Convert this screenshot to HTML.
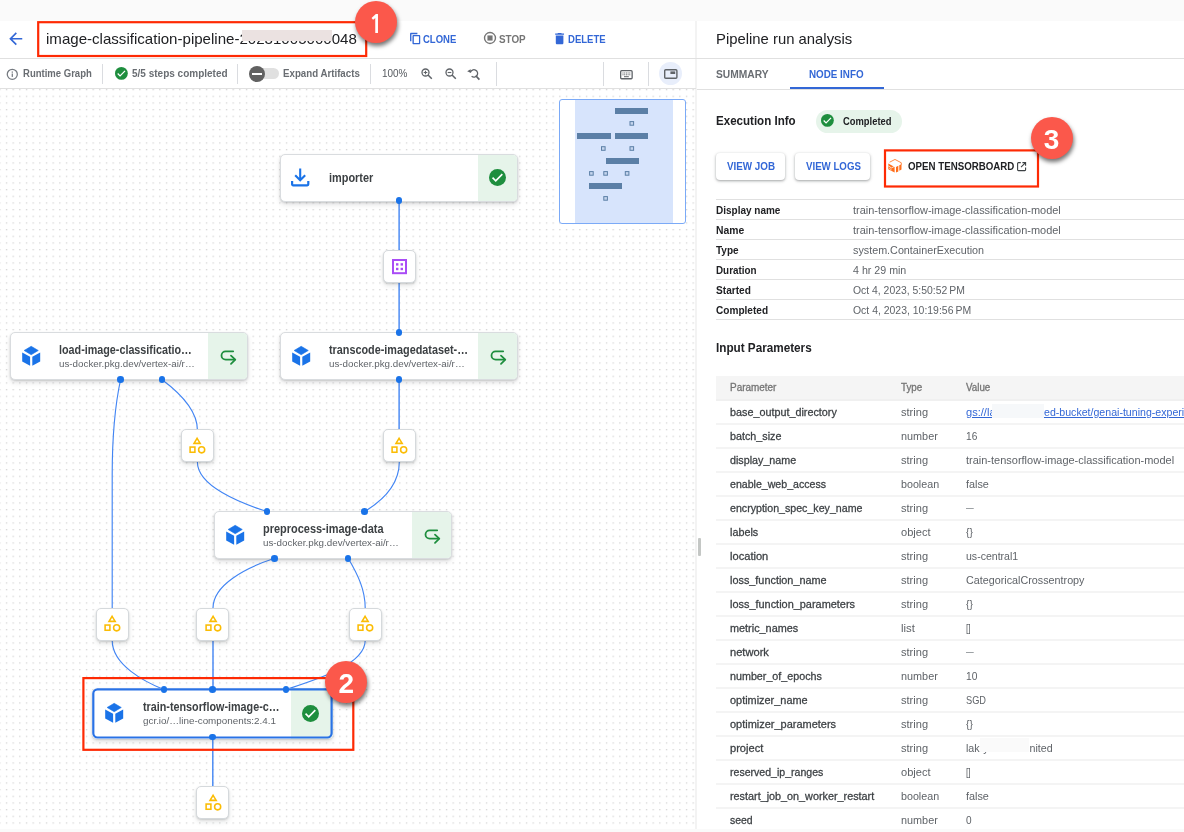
<!DOCTYPE html>
<html lang="en"><head><meta charset="utf-8"><title>Pipeline run analysis</title><style>
html,body{margin:0;padding:0}
body{width:1184px;height:832px;overflow:hidden;position:relative;background:#fff;font-family:"Liberation Sans",sans-serif;-webkit-font-smoothing:antialiased}
.t{position:absolute;white-space:nowrap;line-height:1;display:block}
.card{position:absolute;box-sizing:border-box;background:#fff;border:1px solid #d9dcdf;border-radius:5px;box-shadow:0 1px 2px rgba(60,64,67,.2),0 3px 5px 0 rgba(60,64,67,.13);overflow:hidden}
.card .st{position:absolute;right:0;top:0;bottom:0;width:39px;background:#e6f4ea}
.art{position:absolute;box-sizing:border-box;width:33px;height:33px;background:#fff;border:1px solid #d5d9dc;border-radius:5px;box-shadow:0 1px 2px rgba(60,64,67,.2),0 3px 5px 0 rgba(60,64,67,.12)}
.btn{position:absolute;box-sizing:border-box;background:#fff;border-radius:4px;box-shadow:0 1px 2px rgba(60,64,67,.3),0 1px 3px 1px rgba(60,64,67,.15)}
.hl{position:absolute;height:1px;background:#e0e0e0}
.vl{position:absolute;width:1px;background:#dadce0}
.redbox{position:absolute;box-sizing:border-box;border:2px solid #f4330f}
.badge{position:absolute;width:42px;height:42px;border-radius:50%;background:#fb584b;box-shadow:1px 3px 4px rgba(0,0,0,.55)}
.badge b{position:absolute;left:0;top:1.5px;width:42px;height:42px;line-height:42px;text-align:center;color:#fff;font-weight:700;font-size:28px}
.badge b.one{font-family:"NanumGothic","Liberation Sans",sans-serif;font-size:25px;top:3px;left:0}
svg{position:absolute;overflow:visible}
#app{position:absolute;left:0;top:0;width:1184px;height:832px;overflow:hidden;will-change:transform}
</style></head><body><div id="app">
<div style="position:absolute;left:0.00px;top:0.00px;width:1184.00px;height:21.00px;background:#fafafa"></div>
<svg style="left:0;top:89px" width="696" height="740" viewBox="0 89 696 740"><defs><pattern id="dots" x="-0.800" y="89.000" width="6.6667" height="6.6667" patternUnits="userSpaceOnUse"><rect x="0" y="0" width="1.300" height="1.300" fill="#d4d4d4"></rect></pattern></defs><rect x="0" y="89" width="696" height="740" fill="url(#dots)"></rect></svg>
<div style="position:absolute;left:0.00px;top:829.00px;width:1184.00px;height:3.00px;background:#fafafa"></div>
<div style="position:absolute;left:695.00px;top:21.00px;width:2.00px;height:808.00px;background:#f3f3f3"></div>
<div class="hl" style="left:0;top:58px;width:1184px"></div>
<div class="hl" style="left:0;top:88px;width:696px"></div>
<div class="hl" style="left:697px;top:89px;width:487px"></div>
<svg style="left:6.1px;top:28.7px" width="19.5" height="19.5" viewBox="0 0 24 24"><path d="M20 11H7.830l5.590-5.590L12 4l-8 8 8 8 1.410-1.410L7.830 13H20z" fill="#3367d6"></path></svg>
<span class="t" style="left: 46.3px; top: 31px; font-size: 15px; color: rgb(32, 33, 36); transform-origin: 0px 50%; transform: scaleX(1.0046);">image-classification-pipeline-20231005000048</span>
<div style="position:absolute;left:241.90px;top:30.00px;width:90.00px;height:11.40px;background:#ebe2e1"></div>
<svg style="left:409.3px;top:31.6px" width="12.6" height="13.2" viewBox="0 0 24 24"><path d="M16 1H4c-1.1 0-2 .9-2 2v14h2.6V3.6H16V1zm3.4 4H8.6c-1.1 0-2 .9-2 2v14c0 1.1.9 2 2 2h10.8c1.1 0 2-.9 2-2V7c0-1.1-.9-2-2-2zm-.4 15.400H9.200V7.600H19v12.800z" fill="#3367d6"></path></svg>
<span class="t" style="left: 423px; top: 35px; font-size: 10px; color: rgb(51, 103, 214); font-weight: 700; transform-origin: 0px 50%; transform: scaleX(0.9514);">CLONE</span>
<svg style="left:483.4px;top:31.4px" width="14" height="14" viewBox="0 0 24 24"><circle cx="12" cy="12" r="9.400" fill="none" stroke="#757575" stroke-width="2.400"></circle><rect x="7.600" y="7.600" width="8.800" height="8.800" fill="#757575"></rect></svg>
<span class="t" style="left: 498.6px; top: 35px; font-size: 10px; color: rgb(117, 117, 117); font-weight: 700; transform-origin: 0px 50%; transform: scaleX(0.9872);">STOP</span>
<svg style="left:552.4px;top:30.6px" width="15.2" height="15.2" viewBox="0 0 24 24"><path d="M6 19c0 1.100.9 2 2 2h8c1.100 0 2-.9 2-2V7H6v12zM19 4h-3.500l-1-1h-5l-1 1H5v2h14V4z" fill="#3367d6"></path></svg>
<span class="t" style="left: 567.7px; top: 35px; font-size: 10px; color: rgb(51, 103, 214); font-weight: 700; transform-origin: 0px 50%; transform: scaleX(0.953);">DELETE</span>
<span class="t" style="left: 716.1px; top: 31px; font-size: 15px; color: rgb(32, 33, 36); transform-origin: 0px 50%; transform: scaleX(0.99);">Pipeline run analysis</span>
<svg style="left:6.2px;top:67.5px" width="12.6" height="12.6" viewBox="0 0 24 24"><circle cx="12" cy="12" r="9.600" fill="none" stroke="#757a80" stroke-width="2.400"></circle><rect x="10.800" y="10.500" width="2.400" height="6.500" fill="#757a80"></rect><rect x="10.800" y="6.600" width="2.400" height="2.400" fill="#757a80"></rect></svg>
<span class="t" style="left: 23.2px; top: 69px; font-size: 10px; color: rgb(105, 109, 114); font-weight: 700; transform-origin: 0px 50%; transform: scaleX(0.9525);">Runtime Graph</span>
<div class="vl" style="left:102px;top:64px;height:20px"></div>
<div class="vl" style="left:237px;top:64px;height:20px"></div>
<div class="vl" style="left:370px;top:64px;height:20px"></div>
<div class="vl" style="left:496px;top:62px;height:24px"></div>
<div class="vl" style="left:603px;top:62px;height:24px"></div>
<div class="vl" style="left:648px;top:62px;height:24px"></div>
<svg style="left:114.80px;top:67.40px" width="12.80" height="12.80" viewBox="0 0 24 24"><circle cx="12" cy="12" r="12" fill="#1e8e3e"></circle><path d="M5 12.200L9.500 16.700 18.800 7.200" fill="none" stroke="#fff" stroke-width="2.300"></path></svg>
<span class="t" style="left: 131.8px; top: 69px; font-size: 10px; color: rgb(105, 109, 114); font-weight: 700; transform-origin: 0px 50%; transform: scaleX(1.0001);">5/5 steps completed</span>
<div style="position:absolute;left:252.00px;top:68.40px;width:27.00px;height:11.00px;background:#e0e0e0;border-radius:6px"></div>
<div style="position:absolute;left:248.80px;top:65.60px;width:16.60px;height:16.60px;background:#616161;border-radius:50%"></div>
<div style="position:absolute;left:252.40px;top:73.20px;width:9.40px;height:1.50px;background:#fff"></div>
<span class="t" style="left: 282.8px; top: 69px; font-size: 10px; color: rgb(105, 109, 114); font-weight: 700; transform-origin: 0px 50%; transform: scaleX(0.971);">Expand Artifacts</span>
<span class="t" style="left: 381.5px; top: 69px; font-size: 10px; color: rgb(85, 89, 94); transform-origin: 0px 50%; transform: scaleX(0.993);">100%</span>
<svg style="left:421.4px;top:68.2px" width="12" height="12" viewBox="0 0 12 12"><circle cx="4.500" cy="4.500" r="3.500" fill="none" stroke="#5f6368" stroke-width="1.300"></circle><path d="M7 7L10.800 10.800" stroke="#5f6368" stroke-width="1.500" fill="none"></path><path d="M2.700 4.500h3.600M4.500 2.700v3.600" stroke="#5f6368" stroke-width="1.100" fill="none"></path></svg>
<svg style="left:444.8px;top:68.2px" width="12" height="12" viewBox="0 0 12 12"><circle cx="4.500" cy="4.500" r="3.500" fill="none" stroke="#5f6368" stroke-width="1.300"></circle><path d="M7 7L10.800 10.800" stroke="#5f6368" stroke-width="1.500" fill="none"></path><path d="M2.700 4.500h3.600" stroke="#5f6368" stroke-width="1.100" fill="none"></path></svg>
<svg style="left:467.4px;top:67.8px" width="13" height="12.400" viewBox="0 0 13 12.400"><path d="M3.400 4.300A3.700 3.700 0 1 1 4.600 8.300" fill="none" stroke="#5f6368" stroke-width="1.300"></path><path d="M0.200 3.200L3.600 1.200 3.900 5.100z" fill="#5f6368"></path><path d="M8.700 7.600L12.400 11.600" stroke="#5f6368" stroke-width="1.600" fill="none"></path></svg>
<svg style="left:619.6px;top:69.8px" width="12.800" height="9.400" viewBox="0 0 12.800 9.400"><rect x="0.650" y="0.650" width="11.500" height="8.100" rx="1" fill="none" stroke="#5f6368" stroke-width="1.300"></rect><path d="M2.500 3h7.800M2.500 4.800h7.800" stroke="#5f6368" stroke-width="1" stroke-dasharray="1 0.700" fill="none"></path><path d="M4 6.700h4.800" stroke="#5f6368" stroke-width="1" fill="none"></path></svg>
<div style="position:absolute;left:658.90px;top:62.20px;width:23.20px;height:23.20px;background:#e8eefb;border-radius:50%"></div>
<svg style="left:663.8px;top:68.8px" width="13.600" height="10" viewBox="0 0 13.600 10"><rect x="0.700" y="0.700" width="12.200" height="8.600" rx="1" fill="none" stroke="#5f6368" stroke-width="1.400"></rect><rect x="6.400" y="2.400" width="4.800" height="2.600" fill="#5f6368"></rect></svg>
<span class="t" style="left: 716.3px; top: 69px; font-size: 11px; color: rgb(105, 109, 114); font-weight: 700; transform-origin: 0px 50%; transform: scaleX(0.932);">SUMMARY</span>
<span class="t" style="left: 809.4px; top: 69px; font-size: 11px; color: rgb(51, 103, 214); font-weight: 700; transform-origin: 0px 50%; transform: scaleX(0.8933);">NODE INFO</span>
<div style="position:absolute;left:790.00px;top:87.40px;width:94.30px;height:2.00px;background:#3367d6"></div>
<svg style="left:0;top:0" width="696" height="832" viewBox="0 0 696 832">
<path d="M399.1 200.4V251" fill="none" stroke="#4285f4" stroke-width="1.4"></path>
<path d="M399.1 283V332.5" fill="none" stroke="#4285f4" stroke-width="1.4"></path>
<path d="M120.6 379.5C114 410 112.200 440 112.200 475V608" fill="none" stroke="#4285f4" stroke-width="1.15"></path>
<path d="M161.8 379.5C180 393 197.400 410 197.400 430" fill="none" stroke="#4285f4" stroke-width="1.15"></path>
<path d="M197.400 462C197.400 486 240 503 267 511.5" fill="none" stroke="#4285f4" stroke-width="1.15"></path>
<path d="M399.1 379.5V430" fill="none" stroke="#4285f4" stroke-width="1.4"></path>
<path d="M399.3 462C399.300 485 382 501 364.700 511.500" fill="none" stroke="#4285f4" stroke-width="1.15"></path>
<path d="M274.7 558.3C245 568 213 585 213 608" fill="none" stroke="#4285f4" stroke-width="1.15"></path>
<path d="M348.2 558.3C358 575 365.200 590 365.200 608" fill="none" stroke="#4285f4" stroke-width="1.15"></path>
<path d="M112.2 640.5C112.200 665 145 682 163.800 689.500" fill="none" stroke="#4285f4" stroke-width="1.15"></path>
<path d="M213 640.5V689.500" fill="none" stroke="#4285f4" stroke-width="1.4"></path>
<path d="M365.2 640.5C365.200 665 315 680 286.200 689.500" fill="none" stroke="#4285f4" stroke-width="1.15"></path>
<path d="M212.8 737V787" fill="none" stroke="#4285f4" stroke-width="1.4"></path>
</svg>
<div class="card" style="left:280.00px;top:154.00px;width:238.00px;height:48.00px"><div class="st"></div></div>
<svg style="left:291.40px;top:167.60px" width="18.400" height="18.400" viewBox="0 0 18.400 18.400"><path d="M9.200 0.600V11.800M4.200 7.200L9.200 12.200 14.200 7.200" fill="none" stroke="#1a73e8" stroke-width="2.100"></path><path d="M1.100 13V16.300A1 1 0 0 0 2.100 17.300H16.300A1 1 0 0 0 17.300 16.300V13" fill="none" stroke="#1a73e8" stroke-width="2.200"></path></svg>
<span class="t" style="left: 329.2px; top: 172px; font-size: 12px; color: rgb(60, 64, 67); font-weight: 700; transform-origin: 0px 50%; transform: scaleX(0.9099);">importer</span>
<svg style="left:489.20px;top:168.50px" width="17.00" height="17.00" viewBox="0 0 24 24"><circle cx="12" cy="12" r="12" fill="#1e8e3e"></circle><path d="M5 12.200L9.500 16.700 18.800 7.200" fill="none" stroke="#fff" stroke-width="2.300"></path></svg>
<div class="card" style="left:10.00px;top:332.00px;width:238.00px;height:48.00px"><div class="st"></div></div>
<svg style="left:21.75px;top:345.70px" width="18.4" height="20.2" viewBox="0 0 18.400 20.200"><path d="M9.200 0.300L16.300 4.500 9.200 8.700 2.100 4.500z" fill="#1a73e8" stroke="#1a73e8" stroke-width="0.600" stroke-linejoin="round"></path><path d="M0.200 6.600L8.100 10.700V19.700L0.200 15.500z" fill="#1a73e8"></path><path d="M18.200 6.600L10.300 10.700V19.700L18.200 15.500z" fill="#1a73e8"></path></svg>
<span class="t" style="left: 59.2px; top: 344px; font-size: 12px; color: rgb(60, 64, 67); font-weight: 700; transform-origin: 0px 50%; transform: scaleX(0.897);">load-image-classificatio…</span>
<span class="t" style="left: 59.2px; top: 359px; font-size: 9.5px; color: rgb(95, 99, 104); transform-origin: 0px 50%; transform: scaleX(1.0321);">us-docker.pkg.dev/vertex-ai/r…</span>
<svg style="left:221.10px;top:350.40px" width="15.200" height="14.800" viewBox="0 0 15.200 14.800"><path d="M12.200 1.300H4.700A4.200 4.200 0 0 0 4.700 9.700H13.600" fill="none" stroke="#1e8e3e" stroke-width="1.800" stroke-linecap="round"></path><path d="M10 5.600L14.300 9.700 10 13.800" fill="none" stroke="#1e8e3e" stroke-width="1.800" stroke-linecap="round" stroke-linejoin="round"></path></svg>
<div class="card" style="left:280.00px;top:332.00px;width:238.00px;height:48.00px"><div class="st"></div></div>
<svg style="left:291.75px;top:345.70px" width="18.4" height="20.2" viewBox="0 0 18.400 20.200"><path d="M9.200 0.300L16.300 4.500 9.200 8.700 2.100 4.500z" fill="#1a73e8" stroke="#1a73e8" stroke-width="0.600" stroke-linejoin="round"></path><path d="M0.200 6.600L8.100 10.700V19.700L0.200 15.500z" fill="#1a73e8"></path><path d="M18.200 6.600L10.300 10.700V19.700L18.200 15.500z" fill="#1a73e8"></path></svg>
<span class="t" style="left: 329.2px; top: 344px; font-size: 12px; color: rgb(60, 64, 67); font-weight: 700; transform-origin: 0px 50%; transform: scaleX(0.9023);">transcode-imagedataset-…</span>
<span class="t" style="left: 329.2px; top: 359px; font-size: 9.5px; color: rgb(95, 99, 104); transform-origin: 0px 50%; transform: scaleX(1.0321);">us-docker.pkg.dev/vertex-ai/r…</span>
<svg style="left:491.10px;top:350.40px" width="15.200" height="14.800" viewBox="0 0 15.200 14.800"><path d="M12.200 1.300H4.700A4.200 4.200 0 0 0 4.700 9.700H13.600" fill="none" stroke="#1e8e3e" stroke-width="1.800" stroke-linecap="round"></path><path d="M10 5.600L14.300 9.700 10 13.800" fill="none" stroke="#1e8e3e" stroke-width="1.800" stroke-linecap="round" stroke-linejoin="round"></path></svg>
<div class="card" style="left:214.00px;top:511.00px;width:238.00px;height:48.00px"><div class="st"></div></div>
<svg style="left:225.75px;top:524.70px" width="18.4" height="20.2" viewBox="0 0 18.400 20.200"><path d="M9.200 0.300L16.300 4.500 9.200 8.700 2.100 4.500z" fill="#1a73e8" stroke="#1a73e8" stroke-width="0.600" stroke-linejoin="round"></path><path d="M0.200 6.600L8.100 10.700V19.700L0.200 15.500z" fill="#1a73e8"></path><path d="M18.200 6.600L10.300 10.700V19.700L18.200 15.500z" fill="#1a73e8"></path></svg>
<span class="t" style="left: 263.2px; top: 523px; font-size: 12px; color: rgb(60, 64, 67); font-weight: 700; transform-origin: 0px 50%; transform: scaleX(0.9133);">preprocess-image-data</span>
<span class="t" style="left: 263.2px; top: 538px; font-size: 9.5px; color: rgb(95, 99, 104); transform-origin: 0px 50%; transform: scaleX(1.0321);">us-docker.pkg.dev/vertex-ai/r…</span>
<svg style="left:425.10px;top:529.40px" width="15.200" height="14.800" viewBox="0 0 15.200 14.800"><path d="M12.200 1.300H4.700A4.200 4.200 0 0 0 4.700 9.700H13.600" fill="none" stroke="#1e8e3e" stroke-width="1.800" stroke-linecap="round"></path><path d="M10 5.600L14.300 9.700 10 13.800" fill="none" stroke="#1e8e3e" stroke-width="1.800" stroke-linecap="round" stroke-linejoin="round"></path></svg>
<div class="card" style="left:92.10px;top:688.10px;width:240.70px;height:50.60px;border:0;border-radius:5px"><div class="st" style="width:42px"></div></div>
<svg style="left:0;top:0" width="696" height="832" viewBox="0 0 696 832"><rect x="93.30" y="689.30" width="238.30" height="48.20" rx="4.200" fill="none" stroke="#2a72e5" stroke-width="2.200"></rect></svg>
<svg style="left:104.85px;top:703.30px" width="18.4" height="20.2" viewBox="0 0 18.400 20.200"><path d="M9.200 0.300L16.300 4.500 9.200 8.700 2.100 4.500z" fill="#1a73e8" stroke="#1a73e8" stroke-width="0.600" stroke-linejoin="round"></path><path d="M0.200 6.600L8.100 10.700V19.700L0.200 15.500z" fill="#1a73e8"></path><path d="M18.200 6.600L10.300 10.700V19.700L18.200 15.500z" fill="#1a73e8"></path></svg>
<span class="t" style="left: 143px; top: 701px; font-size: 12px; color: rgb(60, 64, 67); font-weight: 700; transform-origin: 0px 50%; transform: scaleX(0.8979);">train-tensorflow-image-c…</span>
<span class="t" style="left: 143px; top: 716px; font-size: 9.5px; color: rgb(95, 99, 104); transform-origin: 0px 50%; transform: scaleX(1.0364);">gcr.io/…line-components:2.4.1</span>
<svg style="left:302.30px;top:704.50px" width="17.00" height="17.00" viewBox="0 0 24 24"><circle cx="12" cy="12" r="12" fill="#1e8e3e"></circle><path d="M5 12.200L9.500 16.700 18.800 7.200" fill="none" stroke="#fff" stroke-width="2.300"></path></svg>
<div class="art" style="left:383px;top:250px"></div>
<svg style="left:391.90px;top:258.70px" width="15" height="15.400" viewBox="0 0 15 15.400"><rect x="1" y="1" width="13" height="13.200" fill="none" stroke="#a94cf6" stroke-width="2"></rect><rect x="4" y="4.200" width="2.400" height="2.400" fill="#a94cf6"></rect><rect x="8.600" y="4.200" width="2.400" height="2.400" fill="#a94cf6"></rect><rect x="4" y="8.800" width="2.400" height="2.400" fill="#a94cf6"></rect><rect x="8.600" y="8.800" width="2.400" height="2.400" fill="#a94cf6"></rect></svg>
<div class="art" style="left:181px;top:429px"></div>
<svg style="left:187.40px;top:435.70px" width="20" height="20" viewBox="-10 -10 20 20"><path d="M0.100 -7.700L3.200 -2.650H-3z" fill="none" stroke="#fbbc04" stroke-width="1.550" stroke-linejoin="miter"></path><rect x="-6.900" y="1.050" width="4.800" height="5.200" fill="none" stroke="#fbbc04" stroke-width="1.550"></rect><circle cx="4.650" cy="3.800" r="3.050" fill="none" stroke="#fbbc04" stroke-width="1.550"></circle></svg>
<div class="art" style="left:383px;top:429px"></div>
<svg style="left:389.30px;top:435.70px" width="20" height="20" viewBox="-10 -10 20 20"><path d="M0.100 -7.700L3.200 -2.650H-3z" fill="none" stroke="#fbbc04" stroke-width="1.550" stroke-linejoin="miter"></path><rect x="-6.900" y="1.050" width="4.800" height="5.200" fill="none" stroke="#fbbc04" stroke-width="1.550"></rect><circle cx="4.650" cy="3.800" r="3.050" fill="none" stroke="#fbbc04" stroke-width="1.550"></circle></svg>
<div class="art" style="left:96px;top:608px"></div>
<svg style="left:102.20px;top:614.20px" width="20" height="20" viewBox="-10 -10 20 20"><path d="M0.100 -7.700L3.200 -2.650H-3z" fill="none" stroke="#fbbc04" stroke-width="1.550" stroke-linejoin="miter"></path><rect x="-6.900" y="1.050" width="4.800" height="5.200" fill="none" stroke="#fbbc04" stroke-width="1.550"></rect><circle cx="4.650" cy="3.800" r="3.050" fill="none" stroke="#fbbc04" stroke-width="1.550"></circle></svg>
<div class="art" style="left:196px;top:608px"></div>
<svg style="left:203.00px;top:614.20px" width="20" height="20" viewBox="-10 -10 20 20"><path d="M0.100 -7.700L3.200 -2.650H-3z" fill="none" stroke="#fbbc04" stroke-width="1.550" stroke-linejoin="miter"></path><rect x="-6.900" y="1.050" width="4.800" height="5.200" fill="none" stroke="#fbbc04" stroke-width="1.550"></rect><circle cx="4.650" cy="3.800" r="3.050" fill="none" stroke="#fbbc04" stroke-width="1.550"></circle></svg>
<div class="art" style="left:349px;top:608px"></div>
<svg style="left:355.20px;top:614.20px" width="20" height="20" viewBox="-10 -10 20 20"><path d="M0.100 -7.700L3.200 -2.650H-3z" fill="none" stroke="#fbbc04" stroke-width="1.550" stroke-linejoin="miter"></path><rect x="-6.900" y="1.050" width="4.800" height="5.200" fill="none" stroke="#fbbc04" stroke-width="1.550"></rect><circle cx="4.650" cy="3.800" r="3.050" fill="none" stroke="#fbbc04" stroke-width="1.550"></circle></svg>
<div class="art" style="left:196px;top:786px"></div>
<svg style="left:202.90px;top:792.90px" width="20" height="20" viewBox="-10 -10 20 20"><path d="M0.100 -7.700L3.200 -2.650H-3z" fill="none" stroke="#fbbc04" stroke-width="1.550" stroke-linejoin="miter"></path><rect x="-6.900" y="1.050" width="4.800" height="5.200" fill="none" stroke="#fbbc04" stroke-width="1.550"></rect><circle cx="4.650" cy="3.800" r="3.050" fill="none" stroke="#fbbc04" stroke-width="1.550"></circle></svg>
<div style="position:absolute;left:395.80px;top:197.10px;width:6.60px;height:6.60px;background:#1a73e8;border-radius:50%"></div>
<div style="position:absolute;left:395.80px;top:329.30px;width:6.60px;height:6.60px;background:#1a73e8;border-radius:50%"></div>
<div style="position:absolute;left:395.80px;top:376.30px;width:6.60px;height:6.60px;background:#1a73e8;border-radius:50%"></div>
<div style="position:absolute;left:117.30px;top:376.30px;width:6.60px;height:6.60px;background:#1a73e8;border-radius:50%"></div>
<div style="position:absolute;left:158.50px;top:376.30px;width:6.60px;height:6.60px;background:#1a73e8;border-radius:50%"></div>
<div style="position:absolute;left:263.70px;top:508.10px;width:6.60px;height:6.60px;background:#1a73e8;border-radius:50%"></div>
<div style="position:absolute;left:361.40px;top:508.10px;width:6.60px;height:6.60px;background:#1a73e8;border-radius:50%"></div>
<div style="position:absolute;left:271.40px;top:555.10px;width:6.60px;height:6.60px;background:#1a73e8;border-radius:50%"></div>
<div style="position:absolute;left:344.90px;top:555.10px;width:6.60px;height:6.60px;background:#1a73e8;border-radius:50%"></div>
<div style="position:absolute;left:160.50px;top:686.10px;width:6.60px;height:6.60px;background:#1a73e8;border-radius:50%"></div>
<div style="position:absolute;left:209.40px;top:686.10px;width:6.60px;height:6.60px;background:#1a73e8;border-radius:50%"></div>
<div style="position:absolute;left:282.90px;top:686.10px;width:6.60px;height:6.60px;background:#1a73e8;border-radius:50%"></div>
<div style="position:absolute;left:209.40px;top:733.90px;width:6.60px;height:6.60px;background:#1a73e8;border-radius:50%"></div>
<div style="position:absolute;left:559.30px;top:99.10px;width:126.60px;height:124.80px;box-sizing:border-box;background:#fff;border:1px solid #7baaf7;border-radius:3px;overflow:hidden"><div style="position:absolute;left:14.4px;top:0;width:98.400px;height:124px;background:#d7e4fc"></div></div>
<div style="position:absolute;left:615.20px;top:107.90px;width:33.30px;height:6.00px;background:#5b7fa6"></div>
<div style="position:absolute;left:577.30px;top:132.90px;width:33.40px;height:6.20px;background:#5b7fa6"></div>
<div style="position:absolute;left:615.20px;top:132.90px;width:33.30px;height:6.20px;background:#5b7fa6"></div>
<div style="position:absolute;left:606.00px;top:157.90px;width:33.20px;height:6.20px;background:#5b7fa6"></div>
<div style="position:absolute;left:589.00px;top:183.00px;width:33.20px;height:6.20px;background:#5b7fa6"></div>
<svg style="left:0;top:0" width="696" height="240" viewBox="0 0 696 240">
<rect x="630.0" y="121.6" width="3.600" height="3.600" fill="#c5d5ee" stroke="#5b7fa6" stroke-width="1"></rect>
<rect x="601.5" y="146.7" width="3.600" height="3.600" fill="#c5d5ee" stroke="#5b7fa6" stroke-width="1"></rect>
<rect x="630.0" y="146.7" width="3.600" height="3.600" fill="#c5d5ee" stroke="#5b7fa6" stroke-width="1"></rect>
<rect x="589.6" y="171.6" width="3.600" height="3.600" fill="#c5d5ee" stroke="#5b7fa6" stroke-width="1"></rect>
<rect x="603.8" y="171.6" width="3.600" height="3.600" fill="#c5d5ee" stroke="#5b7fa6" stroke-width="1"></rect>
<rect x="625.3" y="171.6" width="3.600" height="3.600" fill="#c5d5ee" stroke="#5b7fa6" stroke-width="1"></rect>
<rect x="603.8" y="196.6" width="3.600" height="3.600" fill="#c5d5ee" stroke="#5b7fa6" stroke-width="1"></rect>
</svg>
<div style="position:absolute;left:698.30px;top:538.00px;width:2.40px;height:17.50px;background:#c4c7c5;border-radius:1px"></div>
<span class="t" style="left: 716.1px; top: 115px; font-size: 12px; color: rgb(32, 33, 36); font-weight: 700; transform-origin: 0px 50%; transform: scaleX(0.9628);">Execution Info</span>
<div style="position:absolute;left:816.20px;top:109.80px;width:85.70px;height:22.90px;background:#e6f4ea;border-radius:11.5px"></div>
<svg style="left:820.70px;top:114.30px" width="12.80" height="12.80" viewBox="0 0 24 24"><circle cx="12" cy="12" r="12" fill="#1e8e3e"></circle><path d="M5 12.200L9.500 16.700 18.800 7.200" fill="none" stroke="#fff" stroke-width="2.300"></path></svg>
<span class="t" style="left: 843px; top: 117px; font-size: 10px; color: rgb(32, 33, 36); font-weight: 700; transform-origin: 0px 50%; transform: scaleX(0.9386);">Completed</span>
<div class="btn" style="left:716px;top:152.6px;width:69.2px;height:27px"></div>
<span class="t" style="left: 726.7px; top: 161px; font-size: 10.5px; color: rgb(51, 103, 214); font-weight: 700; transform-origin: 0px 50%; transform: scaleX(0.9368);">VIEW JOB</span>
<div class="btn" style="left:795px;top:152.6px;width:75.400px;height:27px"></div>
<span class="t" style="left: 805.6px; top: 161px; font-size: 10.5px; color: rgb(51, 103, 214); font-weight: 700; transform-origin: 0px 50%; transform: scaleX(0.9224);">VIEW LOGS</span>
<svg style="left:887.6px;top:158.6px" width="14.400" height="14.400" viewBox="0 0 14.400 14.400"><path d="M2 3L7 0.450 13.300 3.800V5.400" fill="none" stroke="#ff7424" stroke-width="0.850" stroke-linejoin="round" stroke-linecap="round"></path><path d="M0.300 4.400L6.600 7.900V13.600L0.300 10.200z" fill="#ff6d1a"></path><path d="M0.300 6.900L3.500 8.900 6.600 7.300" fill="none" stroke="#fff" stroke-width="0.800"></path><path d="M1.300 9.400L3.500 10.800" fill="none" stroke="#fff" stroke-width="0.700"></path><path d="M8 8L10.300 6.800V12.400L8 13.600z" fill="#ff6d1a"></path><path d="M11.300 6.300L13.500 5.200V10.600L11.300 11.700z" fill="#ff6d1a"></path></svg>
<span class="t" style="left: 907.5px; top: 161px; font-size: 10.5px; color: rgb(32, 33, 36); font-weight: 700; transform-origin: 0px 50%; transform: scaleX(0.9257);">OPEN TENSORBOARD</span>
<svg style="left:1016.8px;top:161.8px" width="9.200" height="9.200" viewBox="0 0 9.200 9.200"><path d="M3.800 0.600H1.400A0.800 0.800 0 0 0 0.600 1.400V7.800A0.800 0.800 0 0 0 1.400 8.600H7.800A0.800 0.800 0 0 0 8.600 7.800V5.400" fill="none" stroke="#3c4043" stroke-width="1.100"></path><path d="M5.400 0.600H8.600V3.800M8.600 0.600L4 5.200" fill="none" stroke="#3c4043" stroke-width="1.100"></path></svg>
<div class="hl" style="left:716px;top:199px;width:468px"></div>
<span class="t" style="left: 716.1px; top: 206px; font-size: 10px; color: rgb(32, 33, 36); font-weight: 700; transform-origin: 0px 50%; transform: scaleX(0.9987);">Display name</span>
<span class="t" style="left: 853.2px; top: 205px; font-size: 10.5px; color: rgb(95, 99, 104); transform-origin: 0px 50%; transform: scaleX(1.0442);">train-tensorflow-image-classification-model</span>
<div class="hl" style="left:716px;top:219px;width:468px"></div>
<span class="t" style="left: 716.1px; top: 226px; font-size: 10px; color: rgb(32, 33, 36); font-weight: 700; transform-origin: 0px 50%; transform: scaleX(1.0349);">Name</span>
<span class="t" style="left: 853.2px; top: 225px; font-size: 10.5px; color: rgb(95, 99, 104); transform-origin: 0px 50%; transform: scaleX(1.0442);">train-tensorflow-image-classification-model</span>
<div class="hl" style="left:716px;top:239px;width:468px"></div>
<span class="t" style="left: 716.1px; top: 246px; font-size: 10px; color: rgb(32, 33, 36); font-weight: 700; transform-origin: 0px 50%; transform: scaleX(0.9996);">Type</span>
<span class="t" style="left: 853.2px; top: 245px; font-size: 10.5px; color: rgb(95, 99, 104); transform-origin: 0px 50%; transform: scaleX(1.0257);">system.ContainerExecution</span>
<div class="hl" style="left:716px;top:259px;width:468px"></div>
<span class="t" style="left: 716.1px; top: 266px; font-size: 10px; color: rgb(32, 33, 36); font-weight: 700; transform-origin: 0px 50%; transform: scaleX(0.9852);">Duration</span>
<span class="t" style="left: 853.2px; top: 265px; font-size: 10.5px; color: rgb(95, 99, 104); transform-origin: 0px 50%; transform: scaleX(1.0146);">4 hr 29 min</span>
<div class="hl" style="left:716px;top:279px;width:468px"></div>
<span class="t" style="left: 716.1px; top: 286px; font-size: 10px; color: rgb(32, 33, 36); font-weight: 700; transform-origin: 0px 50%; transform: scaleX(1.013);">Started</span>
<span class="t" style="left: 853.2px; top: 285px; font-size: 10.5px; color: rgb(95, 99, 104); transform-origin: 0px 50%; transform: scaleX(0.9901);">Oct 4, 2023, 5:50:52 PM</span>
<div class="hl" style="left:716px;top:299px;width:468px"></div>
<span class="t" style="left: 716.1px; top: 306px; font-size: 10px; color: rgb(32, 33, 36); font-weight: 700; transform-origin: 0px 50%; transform: scaleX(1.0083);">Completed</span>
<span class="t" style="left: 853.2px; top: 305px; font-size: 10.5px; color: rgb(95, 99, 104); transform-origin: 0px 50%; transform: scaleX(0.9946);">Oct 4, 2023, 10:19:56 PM</span>
<div class="hl" style="left:716px;top:319px;width:468px"></div>
<span class="t" style="left: 716px; top: 342px; font-size: 12px; color: rgb(32, 33, 36); font-weight: 700; transform-origin: 0px 50%; transform: scaleX(0.9761);">Input Parameters</span>
<div style="position:absolute;left:716.00px;top:376.00px;width:468.00px;height:24.00px;background:#f5f5f5"></div>
<div style="position:absolute;left:716.00px;top:399.00px;width:468.00px;height:2.00px;background:#f0f0f0"></div>
<span class="t" style="left: 730px; top: 383px; font-size: 10px; color: rgb(117, 117, 117); -webkit-text-stroke: 0.3px rgb(117, 117, 117); transform-origin: 0px 50%; transform: scaleX(0.9938);">Parameter</span>
<span class="t" style="left: 901px; top: 383px; font-size: 10px; color: rgb(117, 117, 117); -webkit-text-stroke: 0.3px rgb(117, 117, 117); transform-origin: 0px 50%; transform: scaleX(0.9821);">Type</span>
<span class="t" style="left: 966px; top: 383px; font-size: 10px; color: rgb(117, 117, 117); -webkit-text-stroke: 0.3px rgb(117, 117, 117); transform-origin: 0px 50%; transform: scaleX(0.9781);">Value</span>
<span class="t" style="left: 730px; top: 407px; font-size: 10.5px; color: rgb(60, 64, 67); -webkit-text-stroke: 0.27px rgb(63, 67, 71); transform-origin: 0px 50%; transform: scaleX(1.0278);">base_output_directory</span>
<span class="t" style="left: 901px; top: 407px; font-size: 10.5px; color: rgb(95, 99, 104); transform-origin: 0px 50%; transform: scaleX(1.055);">string</span>
<a class="t" style="left: 966px; top: 407px; font-size: 10.5px; color: rgb(51, 103, 214); text-decoration: underline; transform-origin: 0px 50%; transform: scaleX(1.0557);">gs://lak-yxz-unit</a>
<a class="t" style="left: 1043.6px; top: 407px; font-size: 10.5px; color: rgb(51, 103, 214); text-decoration: underline; transform-origin: 0px 50%; transform: scaleX(1.0089);">ed-bucket/genai-tuning-experiments</a>
<div style="position:absolute;left:992.20px;top:404.00px;width:51.70px;height:13.80px;background:#f6f8fa"></div>
<div class="hl" style="left:716px;top:423px;width:468px;height:2px;background:#f4f4f4"></div>
<span class="t" style="left: 730px; top: 431px; font-size: 10.5px; color: rgb(60, 64, 67); -webkit-text-stroke: 0.27px rgb(63, 67, 71); transform-origin: 0px 50%; transform: scaleX(1.0238);">batch_size</span>
<span class="t" style="left: 901px; top: 431px; font-size: 10.5px; color: rgb(95, 99, 104); transform-origin: 0px 50%; transform: scaleX(1.0334);">number</span>
<span class="t" style="left: 966px; top: 431px; font-size: 10.5px; color: rgb(95, 99, 104); transform-origin: 0px 50%; transform: scaleX(0.9668);">16</span>
<div class="hl" style="left:716px;top:447px;width:468px;height:2px;background:#f4f4f4"></div>
<span class="t" style="left: 730px; top: 455px; font-size: 10.5px; color: rgb(60, 64, 67); -webkit-text-stroke: 0.27px rgb(63, 67, 71); transform-origin: 0px 50%; transform: scaleX(1.0217);">display_name</span>
<span class="t" style="left: 901px; top: 455px; font-size: 10.5px; color: rgb(95, 99, 104); transform-origin: 0px 50%; transform: scaleX(1.055);">string</span>
<span class="t" style="left: 966px; top: 455px; font-size: 10.5px; color: rgb(95, 99, 104); transform-origin: 0px 50%; transform: scaleX(1.0457);">train-tensorflow-image-classification-model</span>
<div class="hl" style="left:716px;top:471px;width:468px;height:2px;background:#f4f4f4"></div>
<span class="t" style="left: 730px; top: 479px; font-size: 10.5px; color: rgb(60, 64, 67); -webkit-text-stroke: 0.27px rgb(63, 67, 71); transform-origin: 0px 50%; transform: scaleX(1.0089);">enable_web_access</span>
<span class="t" style="left: 901px; top: 479px; font-size: 10.5px; color: rgb(95, 99, 104); transform-origin: 0px 50%; transform: scaleX(1.0194);">boolean</span>
<span class="t" style="left: 966px; top: 479px; font-size: 10.5px; color: rgb(95, 99, 104); transform-origin: 0px 50%; transform: scaleX(1.0321);">false</span>
<div class="hl" style="left:716px;top:495px;width:468px;height:2px;background:#f4f4f4"></div>
<span class="t" style="left: 730px; top: 503px; font-size: 10.5px; color: rgb(60, 64, 67); -webkit-text-stroke: 0.27px rgb(63, 67, 71); transform-origin: 0px 50%; transform: scaleX(1.0126);">encryption_spec_key_name</span>
<span class="t" style="left: 901px; top: 503px; font-size: 10.5px; color: rgb(95, 99, 104); transform-origin: 0px 50%; transform: scaleX(1.055);">string</span>
<span class="t" style="left: 966px; top: 502px; font-size: 10.5px; color: rgb(128, 134, 139); transform-origin: 0px 50%; transform: scaleX(0.7333);">—</span>
<div class="hl" style="left:716px;top:519px;width:468px;height:2px;background:#f4f4f4"></div>
<span class="t" style="left: 730px; top: 527px; font-size: 10.5px; color: rgb(60, 64, 67); -webkit-text-stroke: 0.27px rgb(63, 67, 71); transform-origin: 0px 50%; transform: scaleX(1.0278);">labels</span>
<span class="t" style="left: 901px; top: 527px; font-size: 10.5px; color: rgb(95, 99, 104); transform-origin: 0px 50%; transform: scaleX(1.056);">object</span>
<span class="t" style="left: 966px; top: 527px; font-size: 10.5px; color: rgb(95, 99, 104); transform-origin: 0px 50%; transform: scaleX(0.9835);">{}</span>
<div class="hl" style="left:716px;top:543px;width:468px;height:2px;background:#f4f4f4"></div>
<span class="t" style="left: 730px; top: 551px; font-size: 10.5px; color: rgb(60, 64, 67); -webkit-text-stroke: 0.27px rgb(63, 67, 71); transform-origin: 0px 50%; transform: scaleX(1.0579);">location</span>
<span class="t" style="left: 901px; top: 551px; font-size: 10.5px; color: rgb(95, 99, 104); transform-origin: 0px 50%; transform: scaleX(1.055);">string</span>
<span class="t" style="left: 966px; top: 551px; font-size: 10.5px; color: rgb(95, 99, 104); transform-origin: 0px 50%; transform: scaleX(1.0048);">us-central1</span>
<div class="hl" style="left:716px;top:567px;width:468px;height:2px;background:#f4f4f4"></div>
<span class="t" style="left: 730px; top: 575px; font-size: 10.5px; color: rgb(60, 64, 67); -webkit-text-stroke: 0.27px rgb(63, 67, 71); transform-origin: 0px 50%; transform: scaleX(1.0342);">loss_function_name</span>
<span class="t" style="left: 901px; top: 575px; font-size: 10.5px; color: rgb(95, 99, 104); transform-origin: 0px 50%; transform: scaleX(1.055);">string</span>
<span class="t" style="left: 966px; top: 575px; font-size: 10.5px; color: rgb(95, 99, 104); transform-origin: 0px 50%; transform: scaleX(1.0254);">CategoricalCrossentropy</span>
<div class="hl" style="left:716px;top:591px;width:468px;height:2px;background:#f4f4f4"></div>
<span class="t" style="left: 730px; top: 599px; font-size: 10.5px; color: rgb(60, 64, 67); -webkit-text-stroke: 0.27px rgb(63, 67, 71); transform-origin: 0px 50%; transform: scaleX(1.0396);">loss_function_parameters</span>
<span class="t" style="left: 901px; top: 599px; font-size: 10.5px; color: rgb(95, 99, 104); transform-origin: 0px 50%; transform: scaleX(1.055);">string</span>
<span class="t" style="left: 966px; top: 599px; font-size: 10.5px; color: rgb(95, 99, 104); transform-origin: 0px 50%; transform: scaleX(0.9835);">{}</span>
<div class="hl" style="left:716px;top:615px;width:468px;height:2px;background:#f4f4f4"></div>
<span class="t" style="left: 730px; top: 623px; font-size: 10.5px; color: rgb(60, 64, 67); -webkit-text-stroke: 0.27px rgb(63, 67, 71); transform-origin: 0px 50%; transform: scaleX(1.0341);">metric_names</span>
<span class="t" style="left: 901px; top: 623px; font-size: 10.5px; color: rgb(95, 99, 104); transform-origin: 0px 50%; transform: scaleX(1.0822);">list</span>
<span class="t" style="left: 966px; top: 623px; font-size: 10.5px; color: rgb(95, 99, 104); transform-origin: 0px 50%; transform: scaleX(0.8043);">[]</span>
<div class="hl" style="left:716px;top:639px;width:468px;height:2px;background:#f4f4f4"></div>
<span class="t" style="left: 730px; top: 647px; font-size: 10.5px; color: rgb(60, 64, 67); -webkit-text-stroke: 0.27px rgb(63, 67, 71); transform-origin: 0px 50%; transform: scaleX(1.0581);">network</span>
<span class="t" style="left: 901px; top: 647px; font-size: 10.5px; color: rgb(95, 99, 104); transform-origin: 0px 50%; transform: scaleX(1.055);">string</span>
<span class="t" style="left: 966px; top: 646px; font-size: 10.5px; color: rgb(128, 134, 139); transform-origin: 0px 50%; transform: scaleX(0.7333);">—</span>
<div class="hl" style="left:716px;top:663px;width:468px;height:2px;background:#f4f4f4"></div>
<span class="t" style="left: 730px; top: 671px; font-size: 10.5px; color: rgb(60, 64, 67); -webkit-text-stroke: 0.27px rgb(63, 67, 71); transform-origin: 0px 50%; transform: scaleX(1.0222);">number_of_epochs</span>
<span class="t" style="left: 901px; top: 671px; font-size: 10.5px; color: rgb(95, 99, 104); transform-origin: 0px 50%; transform: scaleX(1.0334);">number</span>
<span class="t" style="left: 966px; top: 671px; font-size: 10.5px; color: rgb(95, 99, 104); transform-origin: 0px 50%; transform: scaleX(0.9754);">10</span>
<div class="hl" style="left:716px;top:687px;width:468px;height:2px;background:#f4f4f4"></div>
<span class="t" style="left: 730px; top: 695px; font-size: 10.5px; color: rgb(60, 64, 67); -webkit-text-stroke: 0.27px rgb(63, 67, 71); transform-origin: 0px 50%; transform: scaleX(1.0388);">optimizer_name</span>
<span class="t" style="left: 901px; top: 695px; font-size: 10.5px; color: rgb(95, 99, 104); transform-origin: 0px 50%; transform: scaleX(1.055);">string</span>
<span class="t" style="left: 966px; top: 695px; font-size: 10.5px; color: rgb(95, 99, 104); transform-origin: 0px 50%; transform: scaleX(0.8785);">SGD</span>
<div class="hl" style="left:716px;top:711px;width:468px;height:2px;background:#f4f4f4"></div>
<span class="t" style="left: 730px; top: 719px; font-size: 10.5px; color: rgb(60, 64, 67); -webkit-text-stroke: 0.27px rgb(63, 67, 71); transform-origin: 0px 50%; transform: scaleX(1.0448);">optimizer_parameters</span>
<span class="t" style="left: 901px; top: 719px; font-size: 10.5px; color: rgb(95, 99, 104); transform-origin: 0px 50%; transform: scaleX(1.055);">string</span>
<span class="t" style="left: 966px; top: 719px; font-size: 10.5px; color: rgb(95, 99, 104); transform-origin: 0px 50%; transform: scaleX(0.9835);">{}</span>
<div class="hl" style="left:716px;top:735px;width:468px;height:2px;background:#f4f4f4"></div>
<span class="t" style="left: 730px; top: 743px; font-size: 10.5px; color: rgb(60, 64, 67); -webkit-text-stroke: 0.27px rgb(63, 67, 71); transform-origin: 0px 50%; transform: scaleX(1.0566);">project</span>
<span class="t" style="left: 901px; top: 743px; font-size: 10.5px; color: rgb(95, 99, 104); transform-origin: 0px 50%; transform: scaleX(1.055);">string</span>
<span class="t" style="left: 966px; top: 743px; font-size: 10.5px; color: rgb(95, 99, 104); transform-origin: 0px 50%; transform: scaleX(1.0176);">lak-yxz-coo-united</span>
<div class="hl" style="left:716px;top:759px;width:468px;height:2px;background:#f4f4f4"></div>
<span class="t" style="left: 730px; top: 767px; font-size: 10.5px; color: rgb(60, 64, 67); -webkit-text-stroke: 0.27px rgb(63, 67, 71); transform-origin: 0px 50%; transform: scaleX(1.0053);">reserved_ip_ranges</span>
<span class="t" style="left: 901px; top: 767px; font-size: 10.5px; color: rgb(95, 99, 104); transform-origin: 0px 50%; transform: scaleX(1.056);">object</span>
<span class="t" style="left: 966px; top: 767px; font-size: 10.5px; color: rgb(95, 99, 104); transform-origin: 0px 50%; transform: scaleX(0.8043);">[]</span>
<div class="hl" style="left:716px;top:783px;width:468px;height:2px;background:#f4f4f4"></div>
<span class="t" style="left: 730px; top: 791px; font-size: 10.5px; color: rgb(60, 64, 67); -webkit-text-stroke: 0.27px rgb(63, 67, 71); transform-origin: 0px 50%; transform: scaleX(1.0294);">restart_job_on_worker_restart</span>
<span class="t" style="left: 901px; top: 791px; font-size: 10.5px; color: rgb(95, 99, 104); transform-origin: 0px 50%; transform: scaleX(1.0194);">boolean</span>
<span class="t" style="left: 966px; top: 791px; font-size: 10.5px; color: rgb(95, 99, 104); transform-origin: 0px 50%; transform: scaleX(1.0321);">false</span>
<div class="hl" style="left:716px;top:807px;width:468px;height:2px;background:#f4f4f4"></div>
<span class="t" style="left: 730px; top: 815px; font-size: 10.5px; color: rgb(60, 64, 67); -webkit-text-stroke: 0.27px rgb(63, 67, 71); transform-origin: 0px 50%; transform: scaleX(0.9964);">seed</span>
<span class="t" style="left: 901px; top: 815px; font-size: 10.5px; color: rgb(95, 99, 104); transform-origin: 0px 50%; transform: scaleX(1.0334);">number</span>
<span class="t" style="left: 966px; top: 815px; font-size: 10.5px; color: rgb(95, 99, 104); transform-origin: 0px 50%; transform: scaleX(0.9583);">0</span>
<div style="position:absolute;left:979.80px;top:738.00px;width:49.70px;height:14.00px;background:#fafafa"></div>
<svg style="left:0;top:0" width="1184" height="832" viewBox="0 0 1184 832">
<rect x="38.20" y="22.20" width="328.00" height="33.80" fill="none" stroke="#fe2a04" stroke-width="2.200"></rect>
<rect x="83.40" y="678.10" width="269.90" height="71.70" fill="none" stroke="#fe2a04" stroke-width="2.200"></rect>
<rect x="885.00" y="150.40" width="153.00" height="36.10" fill="none" stroke="#fe2a04" stroke-width="2.200"></rect>
</svg>
<div class="badge" style="left:355.10px;top:0.80px"><b class="one">1</b></div>
<div class="badge" style="left:325.20px;top:661.40px"><b>2</b></div>
<div class="badge" style="left:1030.60px;top:117.20px"><b>3</b></div>
</div></body></html>
